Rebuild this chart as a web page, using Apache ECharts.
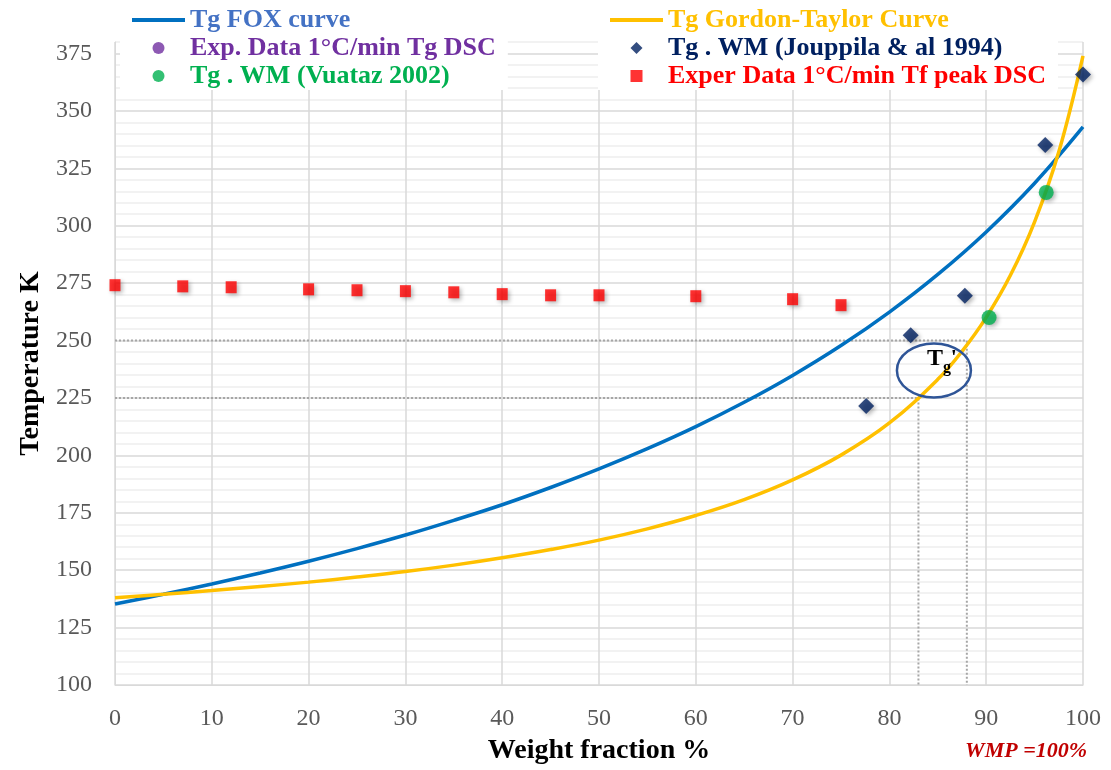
<!DOCTYPE html>
<html><head><meta charset="utf-8">
<script src="https://cdn.jsdelivr.net/npm/echarts@6/dist/echarts.min.js"></script>
<style>html,body{margin:0;padding:0;background:#fff}#c{width:1111px;height:770px}</style>
</head><body><div id="c"></div>
<script>
// Tg FOX curve
const foxX = [0,5,10,15,20,25,30,35,40,45,50,55,60,65,70,75,80,85,90,95,100];
const foxY = [135.3,139.5,144.0,148.8,153.9,159.4,165.3,171.7,178.5,186.0,194.1,202.9,212.5,223.1,234.8,247.8,262.4,278.8,297.3,318.5,343.0];
// Tg Gordon-Taylor curve
const gtX = [0,5,10,15,20,25,30,35,40,45,50,55,60,65,70,75,80,85,87.5,90,92.5,95,97.5,100];
const gtY = [138,139.5,141.1,142.9,144.8,147.0,149.4,152.2,155.4,159.0,163.1,168.0,173.8,180.7,189.3,200.1,214.1,233.1,245.3,260.1,278.4,301.7,332.2,374];
// Exper Data 1°C/min Tf peak DSC
const tfX = [0,7,12,20,25,30,35,40,45,50,60,70,75];
const tfY = [274.1,273.6,273.2,272.3,271.9,271.5,271.0,270.2,269.7,269.7,269.3,268.0,265.4];
// Tg . WM (Jouppila & al 1994)
const jouX = [77.6,82.2,87.8,96.1,100];
const jouY = [221.5,252.3,269.5,335.2,365.8];
// Tg . WM (Vuataz 2002)
const vuaX = [90.3,96.2];
const vuaY = [260.0,314.5];
// Exp. Data 1°C/min Tg DSC (no visible points)
const expX = [];
const expY = [];
// Tg' reference lines
const refT = [250, 225];
const refW = [88, 83];
const tgPrime = [84.6, 237];
const xTicks = [0,10,20,30,40,50,60,70,80,90,100];
const yTicks = [100,125,150,175,200,225,250,275,300,325,350,375];

const zip = (a,b) => a.map((v,i)=>[v,b[i]]);
const FONT = '"Liberation Serif","Times New Roman",serif';
const shadow = {shadowBlur:4, shadowColor:'rgba(0,0,0,0.35)', shadowOffsetX:2, shadowOffsetY:2};
const LINE_ICON = 'path://M0,0 H53 V4 H0 Z';
const DIAMOND_ICON = 'path://M0,7 L7,0 L14,7 L7,14 Z';
const RECT_ICON = 'path://M0,0 H10 V10 H0 Z';

const chart = echarts.init(document.getElementById('c'), null, {renderer:'canvas'});
const lgText = {fontFamily:FONT, fontSize:26, fontWeight:'bold', lineHeight:28};
const option = {
  animation:false,
  backgroundColor:'#fff',
  grid:{left:115, right:28, top:42, bottom:85, containLabel:false},
  legend:[
    {orient:'vertical', left:120, top:0, padding:[6,12,0,12], itemGap:0, itemWidth:53, itemHeight:12,
     backgroundColor:'#fff', textStyle:lgText, z:10,
     data:[{name:'Tg FOX curve', icon:LINE_ICON, textStyle:{color:'#4472C4'}},
           {name:'Exp. Data 1°C/min Tg DSC', icon:'circle', textStyle:{color:'#7030A0'}},
           {name:'Tg . WM (Vuataz 2002)', icon:'circle', textStyle:{color:'#00B050'}}]},
    {orient:'vertical', left:598, top:0, padding:[6,12,0,12], itemGap:0, itemWidth:53, itemHeight:12,
     backgroundColor:'#fff', textStyle:lgText, z:10,
     data:[{name:'Tg Gordon-Taylor Curve', icon:LINE_ICON, textStyle:{color:'#FFC000'}},
           {name:'Tg . WM (Jouppila & al 1994)', icon:DIAMOND_ICON, textStyle:{color:'#002060'}},
           {name:'Exper Data 1°C/min Tf peak DSC', icon:RECT_ICON, textStyle:{color:'#FF0000'}}]}
  ],
  xAxis:{type:'value', min:xTicks[0], max:xTicks[xTicks.length-1], interval:10,
    name:'Weight fraction %', nameLocation:'middle', nameGap:52,
    nameTextStyle:{fontFamily:FONT, fontSize:28, fontWeight:'bold', color:'#000'},
    axisLine:{show:true, lineStyle:{color:'#D9D9D9', width:1}},
    axisTick:{show:false},
    axisLabel:{fontFamily:FONT, fontSize:24, color:'#595959', margin:22},
    splitLine:{show:true, lineStyle:{color:'#D9D9D9', width:1.5}}},
  yAxis:{type:'value', min:100, max:380, interval:5,
    name:'Temperature K', nameLocation:'middle', nameGap:66, nameRotate:90,
    nameTextStyle:{fontFamily:FONT, fontSize:28, fontWeight:'bold', color:'#000'},
    axisLine:{show:true, lineStyle:{color:'#D9D9D9', width:1}},
    axisTick:{show:false},
    axisLabel:{fontFamily:FONT, fontSize:24, color:'#595959', margin:23, interval:0,
      formatter:v => yTicks.indexOf(v) >= 0 ? String(v) : ''},
    splitLine:{show:true, interval:0, lineStyle:{color:['#D9D9D9','#EEEEEE','#EEEEEE','#EEEEEE','#EEEEEE'], width:1.5}}},
  series:[
    {name:'ref250', type:'line', data:[[0,refT[0]],[refW[0],refT[0]],[refW[0],100]], symbol:'none', silent:true,
     lineStyle:{color:'#A6A6A6', width:2, type:'dotted'}, z:1},
    {name:'ref225', type:'line', data:[[0,refT[1]],[refW[1],refT[1]],[refW[1],100]], symbol:'none', silent:true,
     lineStyle:{color:'#A6A6A6', width:2, type:'dotted'}, z:1},
    {name:'Exper Data 1°C/min Tf peak DSC', type:'scatter', data:zip(tfX,tfY), symbol:'rect', symbolSize:[11,12],
     itemStyle:Object.assign({color:'#FF0000'}, shadow), z:3},
    {name:'Tg FOX curve', type:'line', data:zip(foxX,foxY), smooth:0.4, symbol:'none',
     lineStyle:{color:'#0070C0', width:3.5}, itemStyle:{color:'#0070C0'}, z:4},
    {name:'Tg Gordon-Taylor Curve', type:'line', data:zip(gtX,gtY), smooth:0.4, symbol:'none',
     lineStyle:{color:'#FFC000', width:3.5}, itemStyle:{color:'#FFC000'}, z:4},
    {name:'Exp. Data 1°C/min Tg DSC', type:'scatter', data:zip(expX,expY), symbol:'circle', symbolSize:13,
     itemStyle:{color:'#7030A0'}, z:5},
    {name:'Tg . WM (Jouppila & al 1994)', type:'scatter', data:zip(jouX,jouY), symbol:'diamond', symbolSize:[16,16],
     itemStyle:Object.assign({color:'#002060'}, shadow), z:5},
    {name:'Tg . WM (Vuataz 2002)', type:'scatter', data:zip(vuaX,vuaY), symbol:'circle', symbolSize:15,
     itemStyle:Object.assign({color:'#00B050'}, shadow), z:6}
  ]
};
chart.setOption(option);
const c = chart.convertToPixel({gridIndex:0}, tgPrime);
chart.setOption({graphic:[
  {type:'ellipse', shape:{cx:c[0], cy:c[1], rx:37, ry:27}, style:{fill:null, stroke:'#2F5597', lineWidth:2.5}, z:20},
  {type:'text', x:c[0]+1, y:c[1]-12, style:{text:'T', fontFamily:FONT, fontSize:24, fontWeight:'bold', fill:'#000', align:'center', verticalAlign:'middle'}, z:21},
  {type:'text', x:c[0]+13, y:c[1]-3, style:{text:'g', fontFamily:FONT, fontSize:16, fontWeight:'bold', fill:'#000', align:'center', verticalAlign:'middle'}, z:21},
  {type:'text', x:c[0]+20, y:c[1]-12, style:{text:"'", fontFamily:FONT, fontSize:22, fontWeight:'bold', fill:'#000', align:'center', verticalAlign:'middle'}, z:21},
  {type:'text', right:24, top:740, style:{text:'WMP =100%', fontFamily:FONT, fontSize:22, fontWeight:'bold', fontStyle:'italic', fill:'#C00000'}, z:21}
]});
</script></body></html>
